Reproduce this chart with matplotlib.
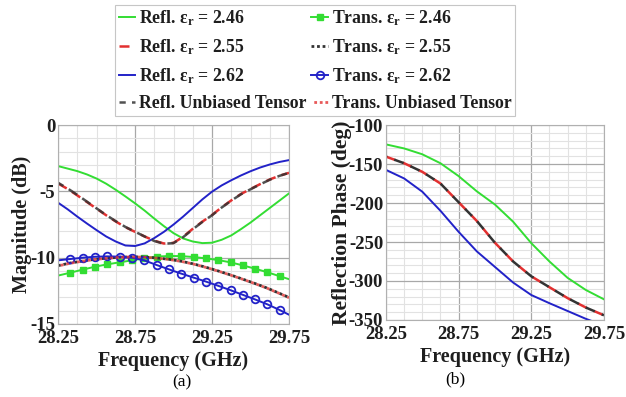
import matplotlib
matplotlib.use("Agg")
import matplotlib.pyplot as plt
from matplotlib.ticker import MultipleLocator

plt.rcParams['font.family'] = ['Liberation Serif', 'DejaVu Serif']
plt.rcParams['mathtext.fontset'] = 'custom'
plt.rcParams['mathtext.rm'] = 'Liberation Serif:bold'
plt.rcParams['mathtext.bf'] = 'Liberation Serif:bold'
plt.rcParams['mathtext.it'] = 'Liberation Serif:bold'
plt.rcParams['axes.unicode_minus'] = False

# ---- reflection magnitude (dB) ----
freq_r = [28.25, 28.3125, 28.375, 28.4375, 28.5, 28.5625, 28.625, 28.6875, 28.75,
          28.8125, 28.875, 28.9375, 29.0, 29.0625, 29.125, 29.1875, 29.25,
          29.3125, 29.375, 29.4375, 29.5, 29.5625, 29.625, 29.6875, 29.75]
refl_246 = [-3.09, -3.28, -3.47, -3.72, -4.03, -4.42, -4.88, -5.38, -5.9,
            -6.45, -7.05, -7.62, -8.15, -8.55, -8.78, -8.9, -8.87,
            -8.65, -8.32, -7.85, -7.35, -6.8, -6.25, -5.7, -5.15]
refl_255 = [-4.4, -4.82, -5.3, -5.8, -6.3, -6.8, -7.27, -7.7, -8.05,
            -8.4, -8.72, -8.93, -8.88, -8.42, -7.82, -7.28, -6.78,
            -6.2, -5.68, -5.2, -4.82, -4.45, -4.1, -3.82, -3.6]
refl_262 = [-5.85, -6.35, -6.9, -7.42, -7.92, -8.4, -8.78, -9.08, -9.12,
            -8.92, -8.52, -8.05, -7.5, -6.9, -6.25, -5.6, -5.02,
            -4.55, -4.16, -3.8, -3.48, -3.2, -2.97, -2.78, -2.64]
refl_unb = [-4.35, -4.78, -5.26, -5.77, -6.28, -6.78, -7.25, -7.68, -8.04,
            -8.4, -8.74, -8.95, -8.9, -8.45, -7.86, -7.3, -6.8,
            -6.22, -5.7, -5.22, -4.84, -4.47, -4.12, -3.83, -3.6]

# ---- transmission magnitude (dB) ----
freq_t = [28.25, 28.33, 28.41, 28.49, 28.57, 28.65, 28.73, 28.81, 28.89, 28.97,
          29.05, 29.13, 29.21, 29.29, 29.37, 29.45, 29.53, 29.61, 29.69, 29.75]
trans_246 = [-11.35, -11.13, -10.9, -10.68, -10.5, -10.35, -10.2, -10.05, -9.92, -9.87,
             -9.88, -9.95, -10.05, -10.18, -10.35, -10.58, -10.83, -11.1, -11.4, -11.62]
trans_255 = [-10.6, -10.4, -10.25, -10.12, -10.03, -9.96, -9.93, -9.95, -10.02, -10.12,
             -10.27, -10.47, -10.72, -11.0, -11.3, -11.62, -11.95, -12.3, -12.7, -13.0]
trans_262 = [-10.2, -10.1, -10.0, -9.93, -9.9, -9.92, -10.0, -10.2, -10.55, -10.88,
             -11.2, -11.5, -11.8, -12.12, -12.45, -12.8, -13.15, -13.52, -13.95, -14.3]
trans_unb = [-10.62, -10.42, -10.26, -10.13, -10.04, -9.97, -9.94, -9.96, -10.03, -10.13,
             -10.28, -10.48, -10.73, -11.01, -11.31, -11.63, -11.96, -12.31, -12.71, -13.02]

# ---- reflection phase (deg) ----
freq_p = [28.25, 28.375, 28.5, 28.625, 28.75, 28.875, 29.0, 29.125, 29.25,
          29.375, 29.5, 29.625, 29.75]
phase_246 = [-124.8, -130, -137.5, -149, -165.5, -185, -202, -224, -251.5,
             -275, -296, -311.5, -323.5]
phase_255 = [-140.5, -149, -160, -175, -199, -223, -251, -275, -294,
             -308, -322, -334, -344]
phase_262 = [-157.5, -168.5, -185.5, -210, -237, -262, -282, -302, -318,
             -328.5, -338.5, -348.5, -357]
phase_unb = [-140.5, -149, -160, -175, -199, -223, -251, -275, -294,
             -308, -322, -334, -344]

x_ticks = [28.25, 28.75, 29.25, 29.75]

GREEN = '#33dd33'
BLUE = '#2222c8'
RED = '#e23030'
DARK = '#333333'
TXT = '#1e1e1e'

fig = plt.figure(figsize=(6.26, 3.97), dpi=100)
ax1 = fig.add_axes([0.0927, 0.1839, 0.369, 0.501])
ax2 = fig.add_axes([0.6166, 0.194, 0.3482, 0.491])


def style_axes(ax, ymin, ymax, ymaj, ymin_step):
    ax.set_xlim(28.25, 29.75)
    ax.set_ylim(ymin, ymax)
    ax.set_xticks(x_ticks)
    ax.xaxis.set_minor_locator(MultipleLocator(0.125))
    ax.yaxis.set_major_locator(MultipleLocator(ymaj))
    ax.yaxis.set_minor_locator(MultipleLocator(ymin_step))
    ax.grid(which='major', color='#a8a8a8', lw=0.9)
    ax.grid(which='minor', color='#e2e2e2', lw=0.8)
    ax.set_axisbelow(True)
    ax.tick_params(which='both', length=0, labelsize=13.5, pad=2)
    ax.tick_params(axis='x', pad=4)
    for lab in ax.get_xticklabels() + ax.get_yticklabels():
        lab.set_fontweight('bold')
        lab.set_color(TXT)
    for s in ax.spines.values():
        s.set_color('#b0b0b0')
        s.set_linewidth(0.8)
    ax.set_xlabel('Frequency (GHz)', fontsize=14.5, fontweight='bold',
                  labelpad=3, color=TXT)


style_axes(ax1, -15, 0, 5, 1)
style_axes(ax2, -350, -100, 50, 10)

mk = slice(1, len(freq_t) - 1)

# magnitude panel
l1, = ax1.plot(freq_r, refl_246, color=GREEN, lw=1.4)
l2, = ax1.plot(freq_r, refl_255, color=RED, lw=1.8, ls=(0, (4, 2.5)))
l3, = ax1.plot(freq_r, refl_262, color=BLUE, lw=1.4)
l4, = ax1.plot(freq_r, refl_unb, color=DARK, lw=1.8, ls=(1.5, (4, 2.5)), alpha=0.85)
t1, = ax1.plot(freq_t, trans_246, color=GREEN, lw=1.4, marker='s', ms=4.5,
               markevery=mk, mfc=GREEN, mec=GREEN)
t2, = ax1.plot(freq_t, trans_255, color=DARK, lw=2.0, ls=(0, (1, 1)))
t3, = ax1.plot(freq_t, trans_262, color=BLUE, lw=1.4, marker='o', ms=5.5,
               markevery=mk, mfc='none', mec=BLUE, mew=1.3)
t4, = ax1.plot(freq_t, trans_unb, color=RED, lw=2.0, ls=(1, (1, 1)), alpha=0.8)
ax1.set_ylabel('Magnitude (dB)', fontsize=14.5, fontweight='bold',
               labelpad=-1, color=TXT)

# phase panel
ax2.plot(freq_p, phase_246, color=GREEN, lw=1.4)
ax2.plot(freq_p, phase_255, color=RED, lw=1.8, ls=(0, (4, 3)))
ax2.plot(freq_p, phase_262, color=BLUE, lw=1.4)
ax2.plot(freq_p, phase_unb, color=DARK, lw=1.8, ls=(3.5, (4, 3)))
ax2.set_ylabel('Reflection Phase (deg)', fontsize=15.5, fontweight='bold',
               labelpad=-2, color=TXT)

labels = [r'Refl. ε$_\mathbf{r}$ = 2.46', r'Refl. ε$_\mathbf{r}$ = 2.55',
          r'Refl. ε$_\mathbf{r}$ = 2.62', 'Refl. Unbiased Tensor',
          r'Trans. ε$_\mathbf{r}$ = 2.46', r'Trans. ε$_\mathbf{r}$ = 2.55',
          r'Trans. ε$_\mathbf{r}$ = 2.62', 'Trans. Unbiased Tensor']
leg = fig.legend([l1, l2, l3, l4, t1, t2, t3, t4], labels, ncol=2,
                 loc='upper left', bbox_to_anchor=(0.1837, 0.988),
                 prop={'weight': 'bold', 'size': 12.8}, frameon=True,
                 fancybox=False, edgecolor='#b8b8b8', handlelength=0.95,
                 handletextpad=0.22, columnspacing=0.25, labelspacing=0.52,
                 borderpad=0.2, borderaxespad=0)
leg.get_frame().set_linewidth(0.8)
for txt in leg.get_texts():
    txt.set_color(TXT)

fig.text(0.291, 0.038, '(a)', ha='center', va='center', fontsize=12.5)
fig.text(0.727, 0.045, '(b)', ha='center', va='center', fontsize=12.5)

fig.savefig('out.png', dpi=100)
